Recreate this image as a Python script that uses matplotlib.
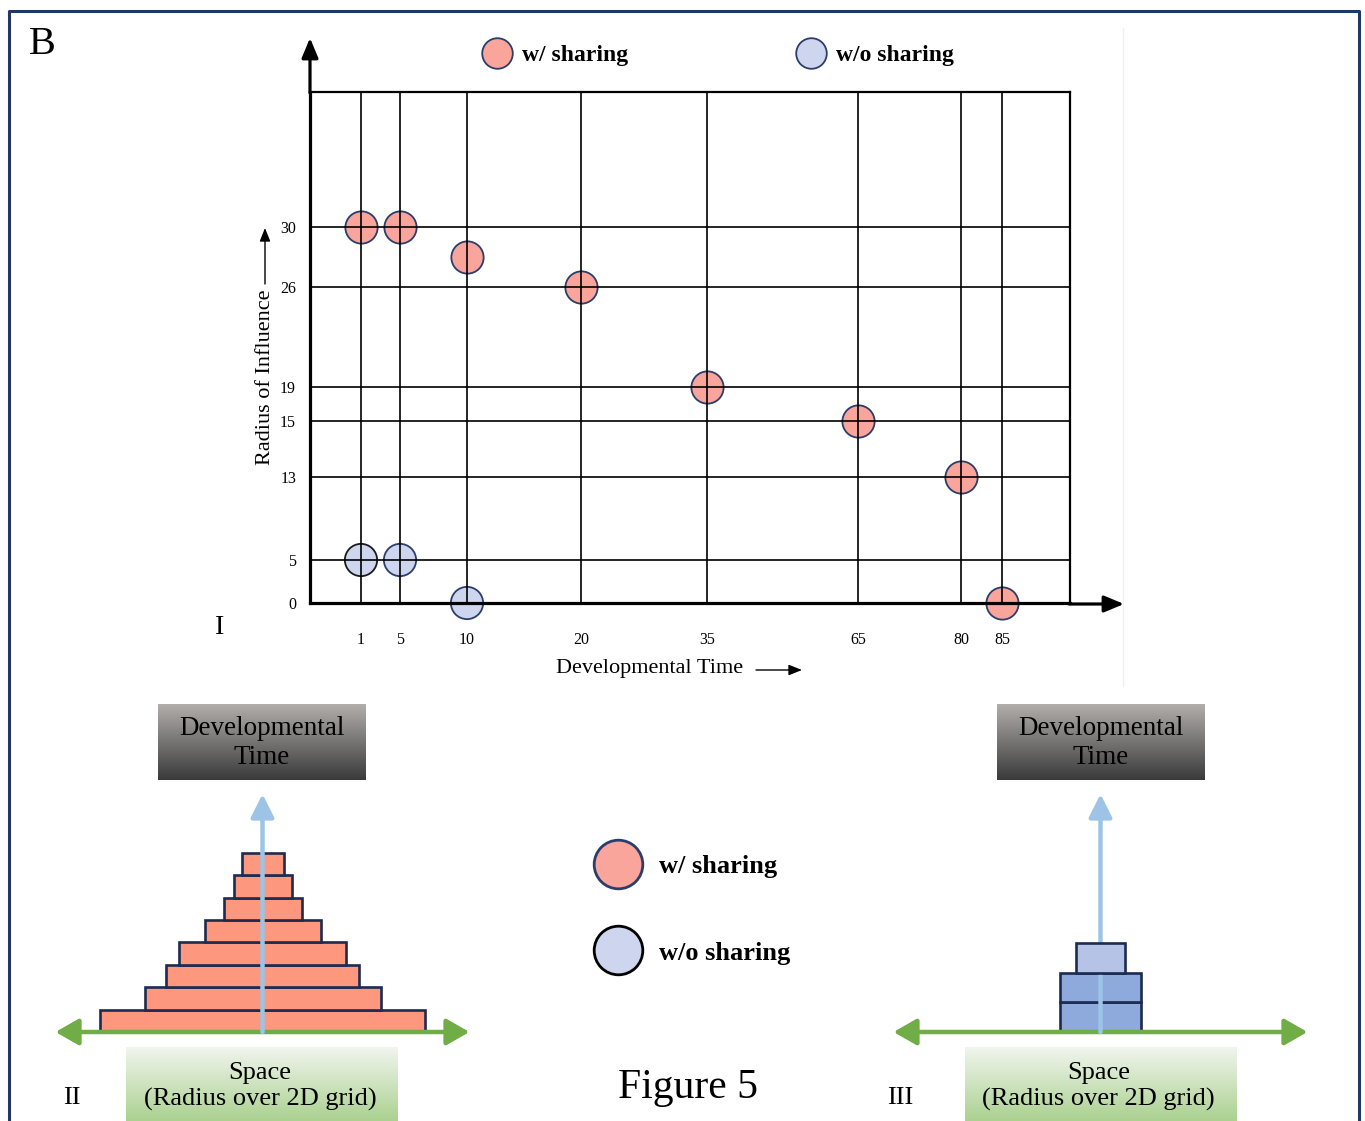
import numpy as np
import matplotlib
matplotlib.use('Agg')
import matplotlib.pyplot as plt
import matplotlib.colors as mcolors
from matplotlib.lines import Line2D

# data
time_ticks = [1, 5, 10, 20, 35, 65, 80, 85]
radius_ticks = [0, 5, 13, 15, 19, 26, 30]
share_time = [1, 5, 10, 20, 35, 65, 80, 85]
share_radius = [30, 30, 28, 26, 19, 15, 13, 0]
noshare_time = [1, 5, 10]
noshare_radius = [5, 5, 0]
pyramid_widths = [325, 236, 193, 167, 116, 78, 58, 42]
stack_widths = [81, 81, 49]
stack_colors = ['#8eaadc', '#8eaadc', '#b4c3e6']
labels = ['w/ sharing', 'w/o sharing']

# hand-drawn axis: where each tick sits (pixels from the axes origin)
x_anchor_val = [-4] + time_ticks + [95]
x_anchor_px = [0, 51, 90, 157, 271, 397, 548, 651, 692, 760]
y_anchor_val = radius_ticks + [40]
y_anchor_px = [0, 43, 126, 182, 216, 316, 376, 511]

# colours
salmon = '#f9a59c'
lilac = '#cdd6ee'
navy = '#2b3d6b'
pyr_fill = '#fd977d'
edge = '#1c2b50'
green = '#70ad47'
arrow_blue = '#9dc3e6'
serif = 'Liberation Serif'

W, H = 1365, 1121
plt.rcParams['font.family'] = serif


def frac(x0, y0, x1, y1):
    # image pixel box (y down) -> figure fraction rect
    return [x0 / W, 1 - y1 / H, (x1 - x0) / W, (y1 - y0) / H]


def gradient_box(ax, x0, x1, y0, y1, top, bottom):
    c0 = np.array(mcolors.to_rgb(top))
    c1 = np.array(mcolors.to_rgb(bottom))
    t = np.linspace(0, 1, 256)[:, None]
    img = (c0 * (1 - t) + c1 * t)[:, None, :]
    ax.imshow(img, extent=(x0, x1, y1, y0), aspect='auto', origin='upper', zorder=1)


fig = plt.figure(figsize=(W / 100, H / 100), dpi=100, facecolor='white')

# overlay in image pixels for the decoration
ov = fig.add_axes([0, 0, 1, 1])
ov.axis('off')

# ---- panel I: scatter ----
ax = fig.add_axes(frac(310, 92, 1070, 603))
fx = lambda v: np.interp(v, x_anchor_val, x_anchor_px)
ix = lambda p: np.interp(p, x_anchor_px, x_anchor_val)
fy = lambda v: np.interp(v, y_anchor_val, y_anchor_px)
iy = lambda p: np.interp(p, y_anchor_px, y_anchor_val)
ax.set_xscale('function', functions=(fx, ix))
ax.set_yscale('function', functions=(fy, iy))
ax.set_xlim(x_anchor_val[0], x_anchor_val[-1])
ax.set_ylim(y_anchor_val[0], y_anchor_val[-1])
ax.set_xticks(time_ticks)
ax.set_yticks(radius_ticks)
ax.set_xticklabels([str(t) for t in time_ticks])
ax.set_yticklabels([str(r) for r in radius_ticks])
ax.tick_params(length=0, labelsize=11.5)
ax.tick_params(axis='x', pad=21)
ax.tick_params(axis='y', pad=10)
ax.set_axisbelow(False)
ax.grid(True, color='black', lw=1.2)
for s in ['left', 'bottom']:
    ax.spines[s].set_linewidth(2.3)
for s in ['top', 'right']:
    ax.spines[s].set_linewidth(1.6)
ax.scatter(share_time, share_radius, s=540, c=salmon, edgecolors=navy,
           linewidths=1.3, zorder=2, clip_on=False)
ax.scatter(noshare_time, noshare_radius, s=540, c=lilac, edgecolors=['#1a1a1a', navy, navy],
           linewidths=1.3, zorder=2, clip_on=False)

# axis arrows
arw = dict(arrowstyle='-|>,head_length=0.6,head_width=0.25', lw=2.3, color='black',
           shrinkA=0, shrinkB=0, mutation_scale=20)
ov.annotate('', xy=(310, 38), xytext=(310, 93), arrowprops=arw)
ov.annotate('', xy=(1124, 604), xytext=(1069, 604), arrowprops=arw)
thin = dict(arrowstyle='-|>,head_length=0.5,head_width=0.2', lw=1.0, color='black',
            shrinkA=0, shrinkB=0, mutation_scale=16)
ov.annotate('', xy=(265, 228), xytext=(265, 284), arrowprops=thin)
ov.annotate('', xy=(802, 670), xytext=(756, 670), arrowprops=thin)
ov.text(650, 668, 'Developmental Time', fontsize=16, ha='center', va='center')
ov.text(265, 377, 'Radius of Influence', fontsize=16, ha='center', va='center', rotation=90)

# faint image edge
ov.plot([1123, 1123], [28, 686], color='#f0f0f0', lw=1)

# labels
ov.text(42, 45, 'B', fontsize=29, ha='center', va='center')
ov.text(220, 628, 'I', fontsize=20, ha='center', va='center')
ov.text(72, 1098, 'II', fontsize=19, ha='center', va='center')
ov.text(900, 1098, 'III', fontsize=19, ha='center', va='center')
ov.text(688, 1088, 'Figure 5', fontsize=30, ha='center', va='center')

# top legend
top_handles = [
    Line2D([], [], ls='', marker='o', markersize=22, mfc=salmon, mec=navy, mew=1.3),
    Line2D([], [], ls='', marker='o', markersize=22, mfc=lilac, mec=navy, mew=1.3),
]
fig.legend(top_handles, labels, loc='center', bbox_to_anchor=(717 / W, 1 - 55 / H), ncol=2,
           frameon=False, columnspacing=7.07, handlelength=1.4, handletextpad=0.35,
           prop={'family': serif, 'weight': 'bold', 'size': 17})

# middle legend
mid_handles = [
    Line2D([], [], ls='', marker='o', markersize=35, mfc=salmon, mec=navy, mew=2.0),
    Line2D([], [], ls='', marker='o', markersize=35, mfc=lilac, mec='black', mew=2.0),
]
fig.legend(mid_handles, labels, loc='center', bbox_to_anchor=(694 / W, 1 - 909.5 / H), ncol=1,
           frameon=False, labelspacing=2.4, handlelength=1.6, handletextpad=0.75,
           prop={'family': serif, 'weight': 'bold', 'size': 19})

# gradient boxes
for cx in [262, 1100.5]:
    gradient_box(ov, cx - 104, cx + 104, 704, 780, '#b2aeac', '#3a3a3a')
    ov.text(cx, 743, 'Developmental\nTime', fontsize=19.5, ha='center', va='center',
            linespacing=1.24, zorder=3)
    gradient_box(ov, cx - 136, cx + 136, 1047, 1125, '#f1f5ee', '#a7cf8b')
    ov.text(cx - 2, 1086.5, 'Space\n(Radius over 2D grid)', fontsize=19, ha='center',
            va='center', linespacing=1.26, zorder=3)

# outer frame
ov.plot([9, 9, 1359, 1359], [1130, 11, 11, 1130], color='#1f3864', lw=2.2, clip_on=False)
ov.set_xlim(0, W)
ov.set_ylim(H, 0)


def panel(x_center, layer_h, widths, colors, split_top):
    pa = fig.add_axes(frac(x_center - 212.5, 790, x_center + 212.5, 1040))
    pa.set_xlim(-212.5, 212.5)
    pa.set_ylim(-8, 242)
    pa.axis('off')
    bottoms = np.arange(len(widths)) * layer_h
    n_low = len(widths) - 1 if split_top else len(widths)
    pa.bar(np.zeros(n_low), [layer_h] * n_low, width=widths[:n_low], bottom=bottoms[:n_low],
           color=colors[:n_low], edgecolor=edge, lw=1.9, zorder=2)
    if split_top:
        pa.bar([0], [layer_h], width=widths[-1], bottom=bottoms[-1], color=colors[-1],
               edgecolor=edge, lw=1.9, zorder=4)
    pa.annotate('', xy=(0, 238), xytext=(0, 0),
                arrowprops=dict(arrowstyle='-|>,head_length=0.7,head_width=0.35', lw=3.2,
                                color=arrow_blue, shrinkA=0, shrinkB=0, mutation_scale=20),
                zorder=3)
    pa.annotate('', xy=(-207, 0), xytext=(207, 0),
                arrowprops=dict(arrowstyle='<|-|>,head_length=0.7,head_width=0.4', lw=3.2,
                                color=green, shrinkA=0, shrinkB=0, mutation_scale=20),
                zorder=2.5)
    return pa


panel(262.5, 22.4, pyramid_widths, [pyr_fill] * len(pyramid_widths), False)
panel(1100.5, 29.7, stack_widths, stack_colors, True)

fig.savefig('out.png', dpi=100, facecolor='white')
